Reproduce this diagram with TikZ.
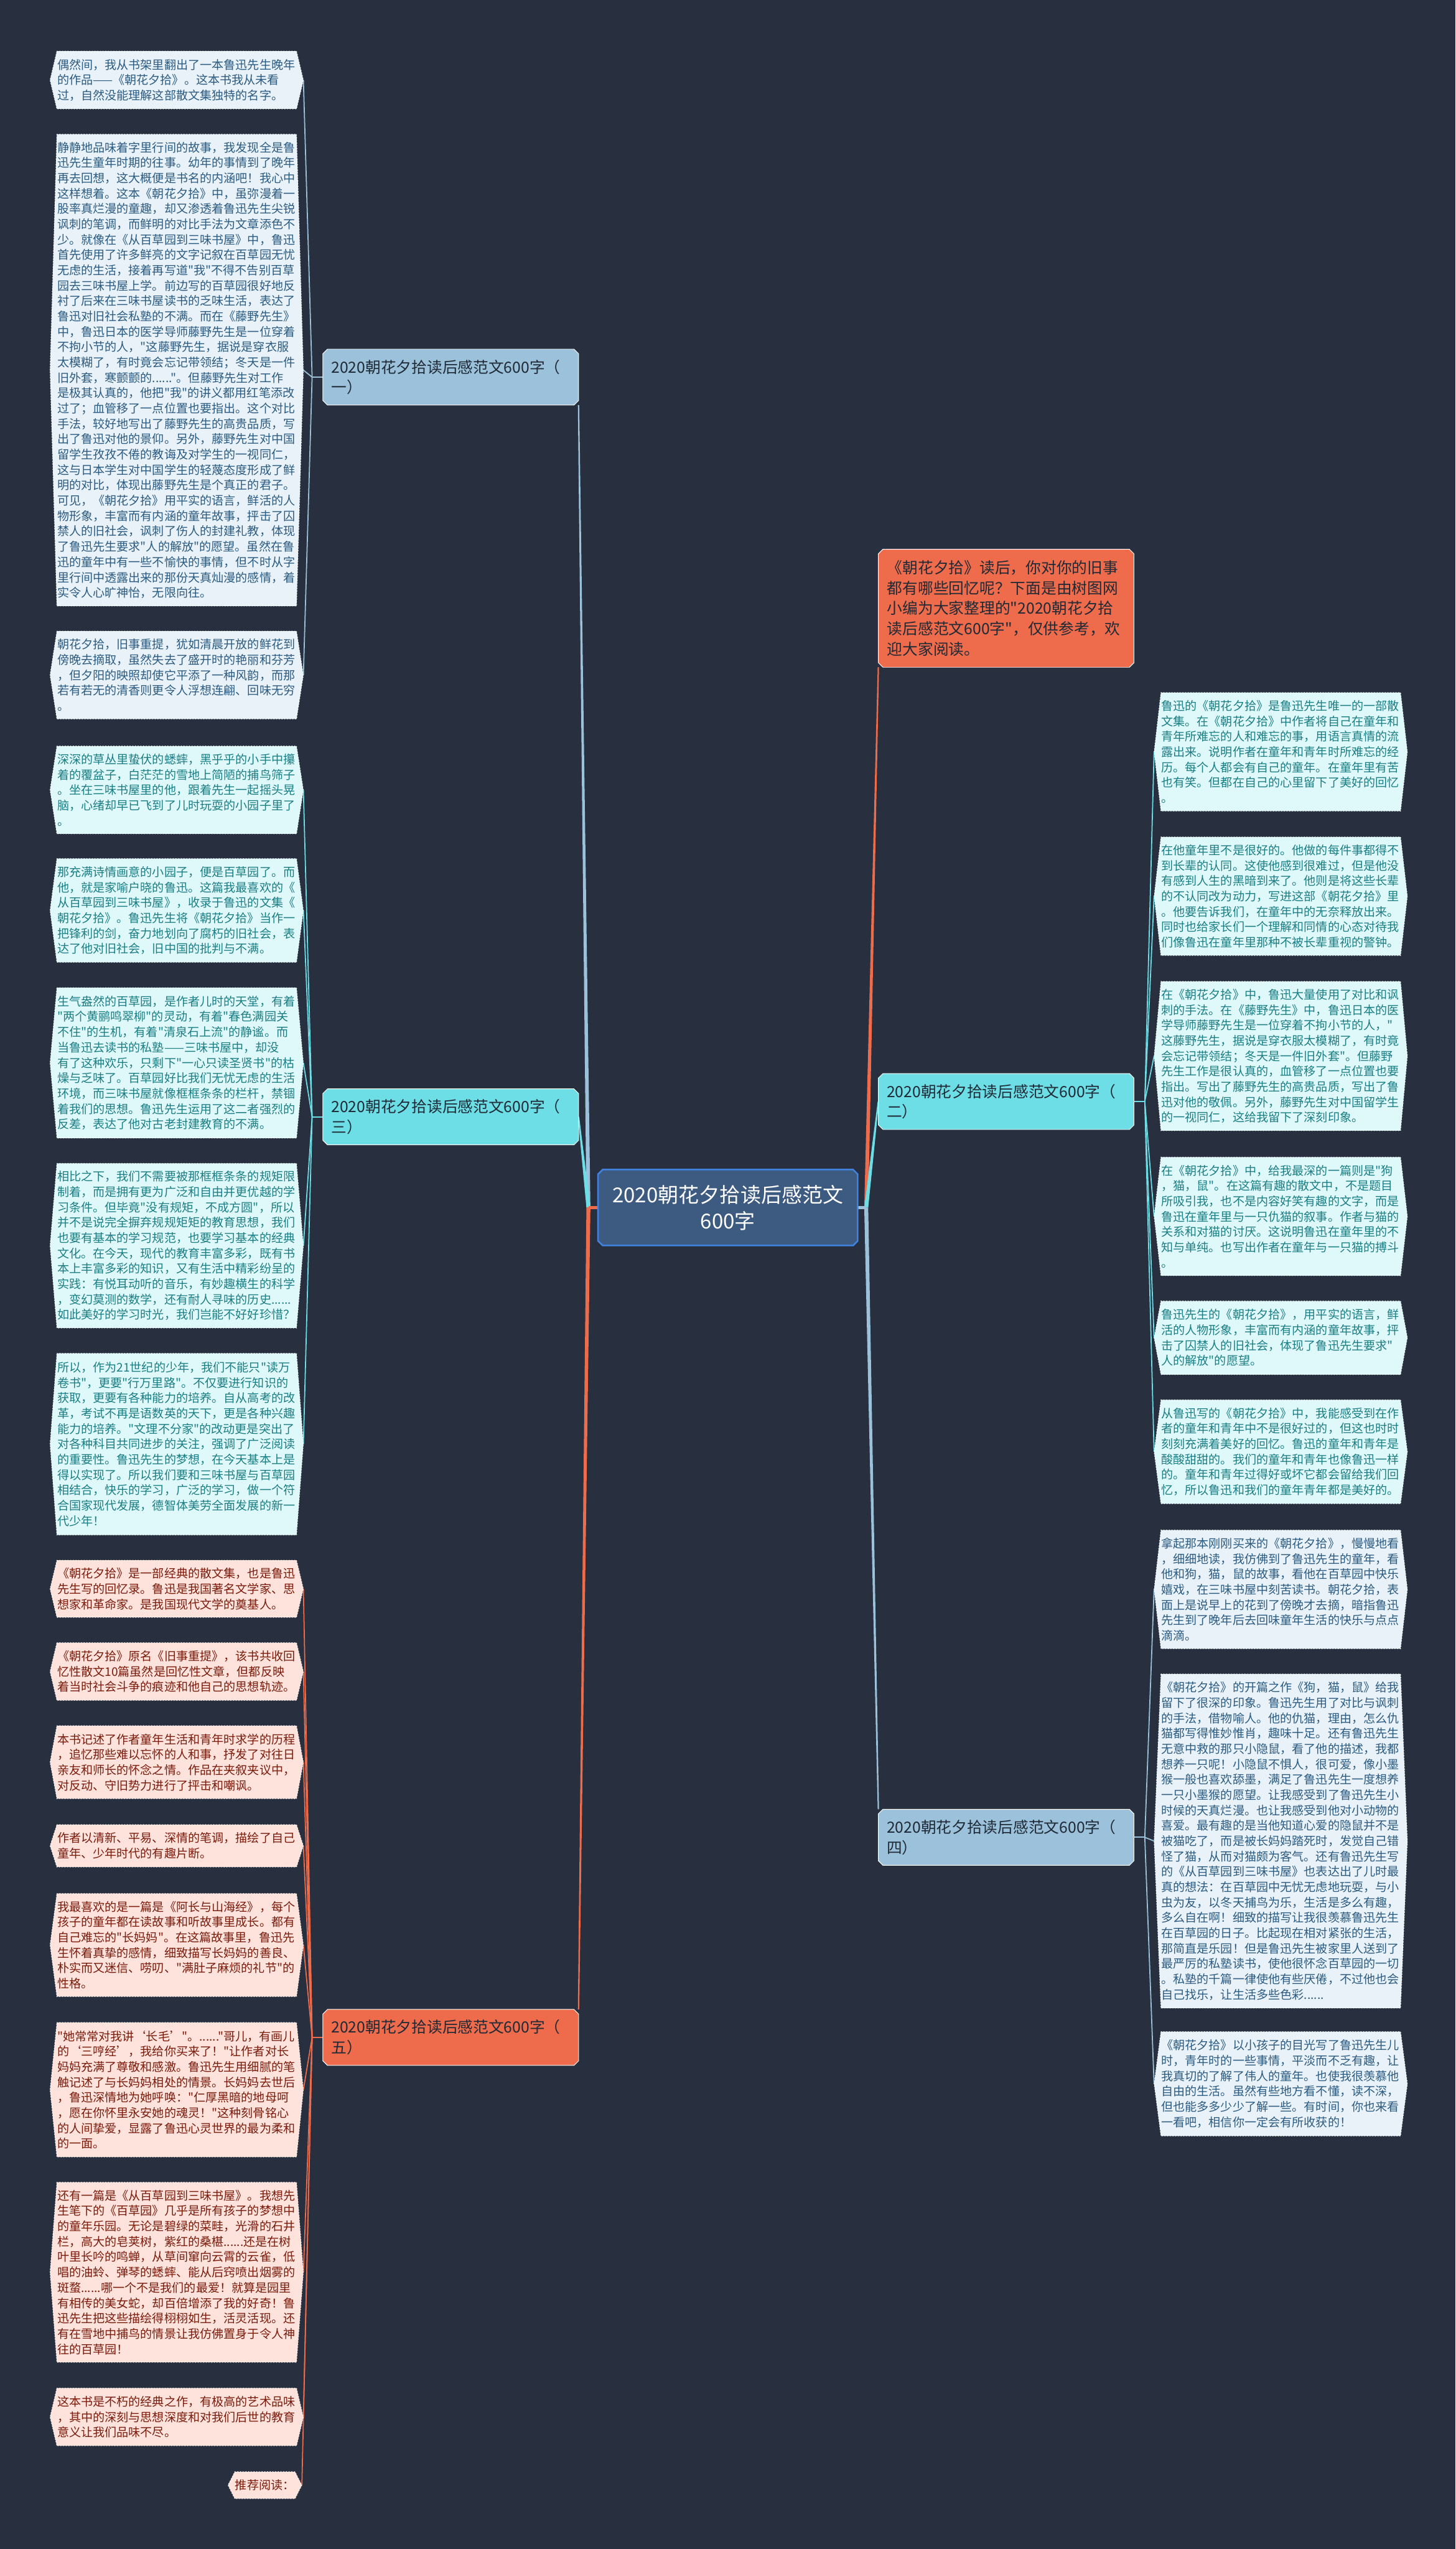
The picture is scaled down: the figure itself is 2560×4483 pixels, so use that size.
\documentclass[tikz,border=0pt]{standalone}
\usepackage{fontspec}
\usetikzlibrary{calc}
\newfontfamily\cjk[Ligatures=TeXOff]{Noto Sans CJK SC}
\newcommand\leaffont{\cjk\fontsize{5.95pt}{7.68pt}\selectfont}
\newcommand\brfont{\cjk\fontsize{7.7pt}{10.2pt}\selectfont}
\newcommand\cenfont{\cjk\fontsize{10.3pt}{13.1pt}\selectfont}
\definecolor{bgc}{HTML}{28303F}
\definecolor{cenfill}{HTML}{3D5B81}
\definecolor{cenedge}{HTML}{3F82E0}
\definecolor{orfill}{HTML}{EE6B4B}
\definecolor{bluefill}{HTML}{9BC2DA}
\definecolor{cyanfill}{HTML}{6DDEE5}
\definecolor{lbluefill}{HTML}{E8F2F8}
\definecolor{lbluetext}{HTML}{2C5B82}
\definecolor{lcyanfill}{HTML}{DFF9FA}
\definecolor{lcyantext}{HTML}{1B7E85}
\definecolor{lpinkfill}{HTML}{FDE3DC}
\definecolor{lpinktext}{HTML}{7B1B0C}
\definecolor{darktext}{HTML}{1F2A36}
\pgfdeclarelayer{edges}
\pgfdeclarelayer{shapes}
\pgfsetlayers{edges,shapes,main}
\newcommand\hexleaf[2]{\begin{pgfonlayer}{shapes}\path[#2] (#1.north west) -- (#1.north east) -- ([xshift=0.12cm]#1.east) -- (#1.south east) -- (#1.south west) -- ([xshift=-0.12cm]#1.west) -- cycle;\end{pgfonlayer}}
\newcommand\chambox[2]{\begin{pgfonlayer}{shapes}\path[#2] ([xshift=0.08cm]#1.north west) -- ([xshift=-0.08cm]#1.north east) -- ([yshift=-0.08cm]#1.north east) -- ([yshift=0.08cm]#1.south east) -- ([xshift=-0.08cm]#1.south east) -- ([xshift=0.08cm]#1.south west) -- ([yshift=0.08cm]#1.south west) -- ([yshift=-0.08cm]#1.north west) -- cycle;\end{pgfonlayer}}
\newcommand\mytaper[3]{\begin{pgfonlayer}{edges}\fill[#3] ([xshift=-0.035cm]#1) -- ([xshift=0.035cm]#1) -- ([xshift=0.012cm]#2) -- ([xshift=-0.012cm]#2) -- cycle;\end{pgfonlayer}}
\tikzset{
  leaf/.style={anchor=north west, inner sep=0pt, text width=4.2cm, minimum width=4.2cm, align=left, font=\leaffont},
  lblue/.style={leaf, text=lbluetext},
  lcyan/.style={leaf, text=lcyantext},
  lpink/.style={leaf, text=lpinktext},
  hexblue/.style={fill=lbluefill, draw=white, densely dotted, line width=0.35pt},
  hexcyan/.style={fill=lcyanfill, draw=white, densely dotted, line width=0.35pt},
  hexpink/.style={fill=lpinkfill, draw=white, densely dotted, line width=0.35pt},
  branch/.style={anchor=north west, inner xsep=0.14cm, inner ysep=0pt, text width=4.2cm, minimum width=4.48cm, minimum height=0.97cm, align=left, font=\brfont, text=darktext},
  intro/.style={anchor=north west, inner xsep=0.15cm, inner ysep=0pt, text width=4.18cm, minimum width=4.48cm, minimum height=2.06cm, align=left, font=\brfont, text=darktext},
  cen/.style={anchor=north west, inner sep=0pt, text width=4.55cm, minimum width=4.55cm, minimum height=1.32cm, align=center, font=\cenfont, text=white},
  lnblue/.style={draw=bluefill, line width=0.55pt},
  lncyan/.style={draw=cyanfill, line width=0.55pt},
  lnor/.style={draw=orfill, line width=0.55pt}
}
\begin{document}
\begin{tikzpicture}[x=0.01cm,y=-0.01cm]
\useasboundingbox (0,0) rectangle (2560,4483);
\begin{pgfonlayer}{edges}\fill[bgc] (0,0) rectangle (2560,4483);\end{pgfonlayer}

% ---------- center, intro, branches ----------
\node[cen] (c) at (1052,2057) {2020朝花夕拾读后感范文\\600字};
\chambox{c}{fill=cenfill, draw=cenedge, line width=0.8pt}

\node[intro] (intro) at (1545,966) {《朝花夕拾》读后，你对你的旧事\\都有哪些回忆呢？下面是由树图网\\小编为大家整理的"2020朝花夕拾\\读后感范文600字"，仅供参考，欢\\迎大家阅读。};
\chambox{intro}{fill=orfill, draw=white, line width=0.3pt}

\node[branch] (b1) at (568,614) {2020朝花夕拾读后感范文600字（\\一）};
\chambox{b1}{fill=bluefill, draw=white, line width=0.3pt}
\node[branch] (b3) at (568,1915) {2020朝花夕拾读后感范文600字（\\三）};
\chambox{b3}{fill=cyanfill, draw=white, line width=0.3pt}
\node[branch] (b5) at (568,3534) {2020朝花夕拾读后感范文600字（\\五）};
\chambox{b5}{fill=orfill, draw=white, line width=0.3pt}
\node[branch] (b2) at (1545,1888) {2020朝花夕拾读后感范文600字（\\二）};
\chambox{b2}{fill=cyanfill, draw=white, line width=0.3pt}
\node[branch] (b4) at (1545,3182) {2020朝花夕拾读后感范文600字（\\四）};
\chambox{b4}{fill=bluefill, draw=white, line width=0.3pt}

% ---------- left leaves: branch 1 ----------
\node[lblue, minimum height=1.00cm] (l1) at (100,90) {偶然间，我从书架里翻出了一本鲁迅先生晚年\\的作品——《朝花夕拾》。这本书我从未看\\过，自然没能理解这部散文集独特的名字。};
\hexleaf{l1}{hexblue}
\node[lblue, minimum height=8.28cm] (l2) at (100,236) {静静地品味着字里行间的故事，我发现全是鲁\\迅先生童年时期的往事。幼年的事情到了晚年\\再去回想，这大概便是书名的内涵吧！我心中\\这样想着。这本《朝花夕拾》中，虽弥漫着一\\股率真烂漫的童趣，却又渗透着鲁迅先生尖锐\\讽刺的笔调，而鲜明的对比手法为文章添色不\\少。就像在《从百草园到三味书屋》中，鲁迅\\首先使用了许多鲜亮的文字记叙在百草园无忧\\无虑的生活，接着再写道"我"不得不告别百草\\园去三味书屋上学。前边写的百草园很好地反\\衬了后来在三味书屋读书的乏味生活，表达了\\鲁迅对旧社会私塾的不满。而在《藤野先生》\\中，鲁迅日本的医学导师藤野先生是一位穿着\\不拘小节的人，"这藤野先生，据说是穿衣服\\太模糊了，有时竟会忘记带领结；冬天是一件\\旧外套，寒颤颤的......"。但藤野先生对工作\\是极其认真的，他把"我"的讲义都用红笔添改\\过了；血管移了一点位置也要指出。这个对比\\手法，较好地写出了藤野先生的高贵品质，写\\出了鲁迅对他的景仰。另外，藤野先生对中国\\留学生孜孜不倦的教诲及对学生的一视同仁，\\这与日本学生对中国学生的轻蔑态度形成了鲜\\明的对比，体现出藤野先生是个真正的君子。\\可见，《朝花夕拾》用平实的语言，鲜活的人\\物形象，丰富而有内涵的童年故事，抨击了囚\\禁人的旧社会，讽刺了伤人的封建礼教，体现\\了鲁迅先生要求"人的解放"的愿望。虽然在鲁\\迅的童年中有一些不愉快的事情，但不时从字\\里行间中透露出来的那份天真灿漫的感情，着\\实令人心旷神怡，无限向往。};
\hexleaf{l2}{hexblue}
\node[lblue, minimum height=1.53cm] (l3) at (100,1110) {朝花夕拾，旧事重提，犹如清晨开放的鲜花到\\傍晚去摘取，虽然失去了盛开时的艳丽和芬芳\\，但夕阳的映照却使它平添了一种风韵，而那\\若有若无的清香则更令人浮想连翩、回味无穷\\。};
\hexleaf{l3}{hexblue}

% ---------- left leaves: branch 3 ----------
\node[lcyan, minimum height=1.53cm] (l4) at (100,1312) {深深的草丛里蛰伏的蟋蟀，黑乎乎的小手中攥\\着的覆盆子，白茫茫的雪地上简陋的捕鸟筛子\\。坐在三味书屋里的他，跟着先生一起摇头晃\\脑，心绪却早已飞到了儿时玩耍的小园子里了\\。};
\hexleaf{l4}{hexcyan}
\node[lcyan, minimum height=1.81cm] (l5) at (100,1510) {那充满诗情画意的小园子，便是百草园了。而\\他，就是家喻户晓的鲁迅。这篇我最喜欢的《\\从百草园到三味书屋》，收录于鲁迅的文集《\\朝花夕拾》。鲁迅先生将《朝花夕拾》当作一\\把锋利的剑，奋力地划向了腐朽的旧社会，表\\达了他对旧社会，旧中国的批判与不满。};
\hexleaf{l5}{hexcyan}
\node[lcyan, minimum height=2.63cm] (l6) at (100,1737) {生气盎然的百草园，是作者儿时的天堂，有着\\"两个黄鹂鸣翠柳"的灵动，有着"春色满园关\\不住"的生机，有着"清泉石上流"的静谧。而\\当鲁迅去读书的私塾——三味书屋中，却没\\有了这种欢乐，只剩下"一心只读圣贤书"的枯\\燥与乏味了。百草园好比我们无忧无虑的生活\\环境，而三味书屋就像框框条条的栏杆，禁锢\\着我们的思想。鲁迅先生运用了这二者强烈的\\反差，表达了他对古老封建教育的不满。};
\hexleaf{l6}{hexcyan}
\node[lcyan, minimum height=2.88cm] (l7) at (100,2046) {相比之下，我们不需要被那框框条条的规矩限\\制着，而是拥有更为广泛和自由并更优越的学\\习条件。但毕竟"没有规矩，不成方圆"，所以\\并不是说完全摒弃规规矩矩的教育思想，我们\\也要有基本的学习规范，也要学习基本的经典\\文化。在今天，现代的教育丰富多彩，既有书\\本上丰富多彩的知识，又有生活中精彩纷呈的\\实践：有悦耳动听的音乐，有妙趣横生的科学\\，变幻莫测的数学，还有耐人寻味的历史......\\如此美好的学习时光，我们岂能不好好珍惜？};
\hexleaf{l7}{hexcyan}
\node[lcyan, minimum height=3.18cm] (l8) at (100,2380) {所以，作为21世纪的少年，我们不能只"读万\\卷书"，更要"行万里路"。不仅要进行知识的\\获取，更要有各种能力的培养。自从高考的改\\革，考试不再是语数英的天下，更是各种兴趣\\能力的培养。"文理不分家"的改动更是突出了\\对各种科目共同进步的关注，强调了广泛阅读\\的重要性。鲁迅先生的梦想，在今天基本上是\\得以实现了。所以我们要和三味书屋与百草园\\相结合，快乐的学习，广泛的学习，做一个符\\合国家现代发展，德智体美劳全面发展的新一\\代少年！};
\hexleaf{l8}{hexcyan}

% ---------- left leaves: branch 5 ----------
\node[lpink, minimum height=0.99cm] (l9) at (100,2744) {《朝花夕拾》是一部经典的散文集，也是鲁迅\\先生写的回忆录。鲁迅是我国著名文学家、思\\想家和革命家。是我国现代文学的奠基人。};
\hexleaf{l9}{hexpink}
\node[lpink, minimum height=1.00cm] (l10) at (100,2889) {《朝花夕拾》原名《旧事重提》，该书共收回\\忆性散文10篇虽然是回忆性文章，但都反映\\着当时社会斗争的痕迹和他自己的思想轨迹。};
\hexleaf{l10}{hexpink}
\node[lpink, minimum height=1.27cm] (l11) at (100,3035) {本书记述了作者童年生活和青年时求学的历程\\，追忆那些难以忘怀的人和事，抒发了对往日\\亲友和师长的怀念之情。作品在夹叙夹议中，\\对反动、守旧势力进行了抨击和嘲讽。};
\hexleaf{l11}{hexpink}
\node[lpink, minimum height=0.73cm] (l12) at (100,3209) {作者以清新、平易、深情的笔调，描绘了自己\\童年、少年时代的有趣片断。};
\hexleaf{l12}{hexpink}
\node[lpink, minimum height=1.80cm] (l13) at (100,3330) {我最喜欢的是一篇是《阿长与山海经》，每个\\孩子的童年都在读故事和听故事里成长。都有\\自己难忘的"长妈妈"。在这篇故事里，鲁迅先\\生怀着真挚的感情，细致描写长妈妈的善良、\\朴实而又迷信、唠叨、"满肚子麻烦的礼节"的\\性格。};
\hexleaf{l13}{hexpink}
\node[lpink, minimum height=2.35cm] (l14) at (100,3557) {"她常常对我讲‘长毛’"。......"哥儿，有画儿\\的‘三哼经’，我给你买来了！"让作者对长\\妈妈充满了尊敬和感激。鲁迅先生用细腻的笔\\触记述了与长妈妈相处的情景。长妈妈去世后\\，鲁迅深情地为她呼唤："仁厚黑暗的地母呵\\，愿在你怀里永安她的魂灵！"这种刻骨铭心\\的人间挚爱，显露了鲁迅心灵世界的最为柔和\\的一面。};
\hexleaf{l14}{hexpink}
\node[lpink, minimum height=3.15cm] (l15) at (100,3838) {还有一篇是《从百草园到三味书屋》。我想先\\生笔下的《百草园》几乎是所有孩子的梦想中\\的童年乐园。无论是碧绿的菜畦，光滑的石井\\栏，高大的皂荚树，紫红的桑椹......还是在树\\叶里长吟的鸣蝉，从草间窜向云霄的云雀，低\\唱的油蛉、弹琴的蟋蟀、能从后窍喷出烟雾的\\斑蝥......哪一个不是我们的最爱！就算是园里\\有相传的美女蛇，却百倍增添了我的好奇！鲁\\迅先生把这些描绘得栩栩如生，活灵活现。还\\有在雪地中捕鸟的情景让我仿佛置身于令人神\\往的百草园！};
\hexleaf{l15}{hexpink}
\node[lpink, minimum height=1.00cm] (l16) at (100,4200) {这本书是不朽的经典之作，有极高的艺术品味\\，其中的深刻与思想深度和对我们后世的教育\\意义让我们品味不尽。};
\hexleaf{l16}{hexpink}
\node[anchor=north east, inner sep=0pt, minimum height=0.46cm, font=\leaffont, text=lpinktext] (l17) at (519,4347) {推荐阅读：};
\hexleaf{l17}{hexpink}

% ---------- right leaves: branch 2 ----------
\node[lcyan, minimum height=2.07cm] (r1) at (2042,1218) {鲁迅的《朝花夕拾》是鲁迅先生唯一的一部散\\文集。在《朝花夕拾》中作者将自己在童年和\\青年所难忘的人和难忘的事，用语言真情的流\\露出来。说明作者在童年和青年时所难忘的经\\历。每个人都会有自己的童年。在童年里有苦\\也有笑。但都在自己的心里留下了美好的回忆\\。};
\hexleaf{r1}{hexcyan}
\node[lcyan, minimum height=2.07cm] (r2) at (2042,1472) {在他童年里不是很好的。他做的每件事都得不\\到长辈的认同。这使他感到很难过，但是他没\\有感到人生的黑暗到来了。他则是将这些长辈\\的不认同改为动力，写进这部《朝花夕拾》里\\。他要告诉我们，在童年中的无奈释放出来。\\同时也给家长们一个理解和同情的心态对待我\\们像鲁迅在童年里那种不被长辈重视的警钟。};
\hexleaf{r2}{hexcyan}
\node[lcyan, minimum height=2.61cm] (r3) at (2042,1726) {在《朝花夕拾》中，鲁迅大量使用了对比和讽\\刺的手法。在《藤野先生》中，鲁迅日本的医\\学导师藤野先生是一位穿着不拘小节的人，"\\这藤野先生，据说是穿衣服太模糊了，有时竟\\会忘记带领结；冬天是一件旧外套"。但藤野\\先生工作是很认真的，血管移了一点位置也要\\指出。写出了藤野先生的高贵品质，写出了鲁\\迅对他的敬佩。另外，藤野先生对中国留学生\\的一视同仁，这给我留下了深刻印象。};
\hexleaf{r3}{hexcyan}
\node[lcyan, minimum height=2.07cm] (r4) at (2042,2035) {在《朝花夕拾》中，给我最深的一篇则是"狗\\，猫，鼠"。在这篇有趣的散文中，不是题目\\所吸引我，也不是内容好笑有趣的文字，而是\\鲁迅在童年里与一只仇猫的叙事。作者与猫的\\关系和对猫的讨厌。这说明鲁迅在童年里的不\\知与单纯。也写出作者在童年与一只猫的搏斗\\。};
\hexleaf{r4}{hexcyan}
\node[lcyan, minimum height=1.28cm] (r5) at (2042,2288) {鲁迅先生的《朝花夕拾》，用平实的语言，鲜\\活的人物形象，丰富而有内涵的童年故事，抨\\击了囚禁人的旧社会，体现了鲁迅先生要求"\\人的解放"的愿望。};
\hexleaf{r5}{hexcyan}
\node[lcyan, minimum height=1.81cm] (r6) at (2042,2462) {从鲁迅写的《朝花夕拾》中，我能感受到在作\\者的童年和青年中不是很好过的，但这也时时\\刻刻充满着美好的回忆。鲁迅的童年和青年是\\酸酸甜甜的。我们的童年和青年也像鲁迅一样\\的。童年和青年过得好或坏它都会留给我们回\\忆，所以鲁迅和我们的童年青年都是美好的。};
\hexleaf{r6}{hexcyan}

% ---------- right leaves: branch 4 ----------
\node[lblue, minimum height=2.07cm] (r7) at (2042,2691) {拿起那本刚刚买来的《朝花夕拾》，慢慢地看\\，细细地读，我仿佛到了鲁迅先生的童年，看\\他和狗，猫，鼠的故事，看他在百草园中快乐\\嬉戏，在三味书屋中刻苦读书。朝花夕拾，表\\面上是说早上的花到了傍晚才去摘，暗指鲁迅\\先生到了晚年后去回味童年生活的快乐与点点\\滴滴。};
\hexleaf{r7}{hexblue}
\node[lblue, minimum height=5.86cm] (r8) at (2042,2944) {《朝花夕拾》的开篇之作《狗，猫，鼠》给我\\留下了很深的印象。鲁迅先生用了对比与讽刺\\的手法，借物喻人。他的仇猫，理由，怎么仇\\猫都写得惟妙惟肖，趣味十足。还有鲁迅先生\\无意中救的那只小隐鼠，看了他的描述，我都\\想养一只呢！小隐鼠不惧人，很可爱，像小墨\\猴一般也喜欢舔墨，满足了鲁迅先生一度想养\\一只小墨猴的愿望。让我感受到了鲁迅先生小\\时候的天真烂漫。也让我感受到他对小动物的\\喜爱。最有趣的是当他知道心爱的隐鼠并不是\\被猫吃了，而是被长妈妈踏死时，发觉自己错\\怪了猫，从而对猫颇为客气。还有鲁迅先生写\\的《从百草园到三味书屋》也表达出了儿时最\\真的想法：在百草园中无忧无虑地玩耍，与小\\虫为友，以冬天捕鸟为乐，生活是多么有趣，\\多么自在啊！细致的描写让我很羡慕鲁迅先生\\在百草园的日子。比起现在相对紧张的生活，\\那简直是乐园！但是鲁迅先生被家里人送到了\\最严厉的私塾读书，使他很怀念百草园的一切\\。私塾的千篇一律使他有些厌倦，不过他也会\\自己找乐，让生活多些色彩......};
\hexleaf{r8}{hexblue}
\node[lblue, minimum height=1.82cm] (r9) at (2042,3573) {《朝花夕拾》以小孩子的目光写了鲁迅先生儿\\时，青年时的一些事情，平淡而不乏有趣，让\\我真切的了解了伟人的童年。也使我很羡慕他\\自由的生活。虽然有些地方看不懂，读不深，\\但也能多多少少了解一些。有时间，你也来看\\一看吧，相信你一定会有所收获的！};
\hexleaf{r9}{hexblue}

% ---------- hubs ----------
\coordinate (hL) at ($(c.west)+(-17,0)$);
\coordinate (hR) at ($(c.east)+(15,0)$);
\coordinate (h1) at ($(b1.west)+(-19,0)$);
\coordinate (h3) at ($(b3.west)+(-19,0)$);
\coordinate (h5) at ($(b5.west)+(-19,0)$);
\coordinate (h2) at ($(b2.east)+(19,0)$);
\coordinate (h4) at ($(b4.east)+(19,0)$);

% ---------- center to branches ----------
\mytaper{hL}{b1.south east}{bluefill}
\mytaper{hL}{b3.east}{cyanfill}
\mytaper{hL}{b5.north east}{orfill}
\mytaper{hR}{intro.south west}{orfill}
\mytaper{hR}{b2.west}{cyanfill}
\mytaper{hR}{b4.north west}{bluefill}
\begin{pgfonlayer}{edges}
\draw[orfill, line width=1.7pt] (c.west) -- (hL);
\draw[bluefill, line width=1.7pt] (c.east) -- (hR);
% ---------- branches to leaves ----------
\draw[lnblue] (b1.west) -- (h1);
\foreach \n in {l1,l2,l3} \draw[lnblue] (h1) -- ([xshift=0.12cm]\n.east);
\draw[lncyan] (b3.west) -- (h3);
\foreach \n in {l4,l5,l6,l7,l8} \draw[lncyan] (h3) -- ([xshift=0.12cm]\n.east);
\draw[lnor] (b5.west) -- (h5);
\foreach \n in {l9,l10,l11,l12,l13,l14,l15,l16,l17} \draw[lnor] (h5) -- ([xshift=0.12cm]\n.east);
\draw[lncyan] (b2.east) -- (h2);
\foreach \n in {r1,r2,r3,r4,r5,r6} \draw[lncyan] (h2) -- ([xshift=-0.12cm]\n.west);
\draw[lnblue] (b4.east) -- (h4);
\foreach \n in {r7,r8,r9} \draw[lnblue] (h4) -- ([xshift=-0.12cm]\n.west);
\end{pgfonlayer}
\end{tikzpicture}
\end{document}
